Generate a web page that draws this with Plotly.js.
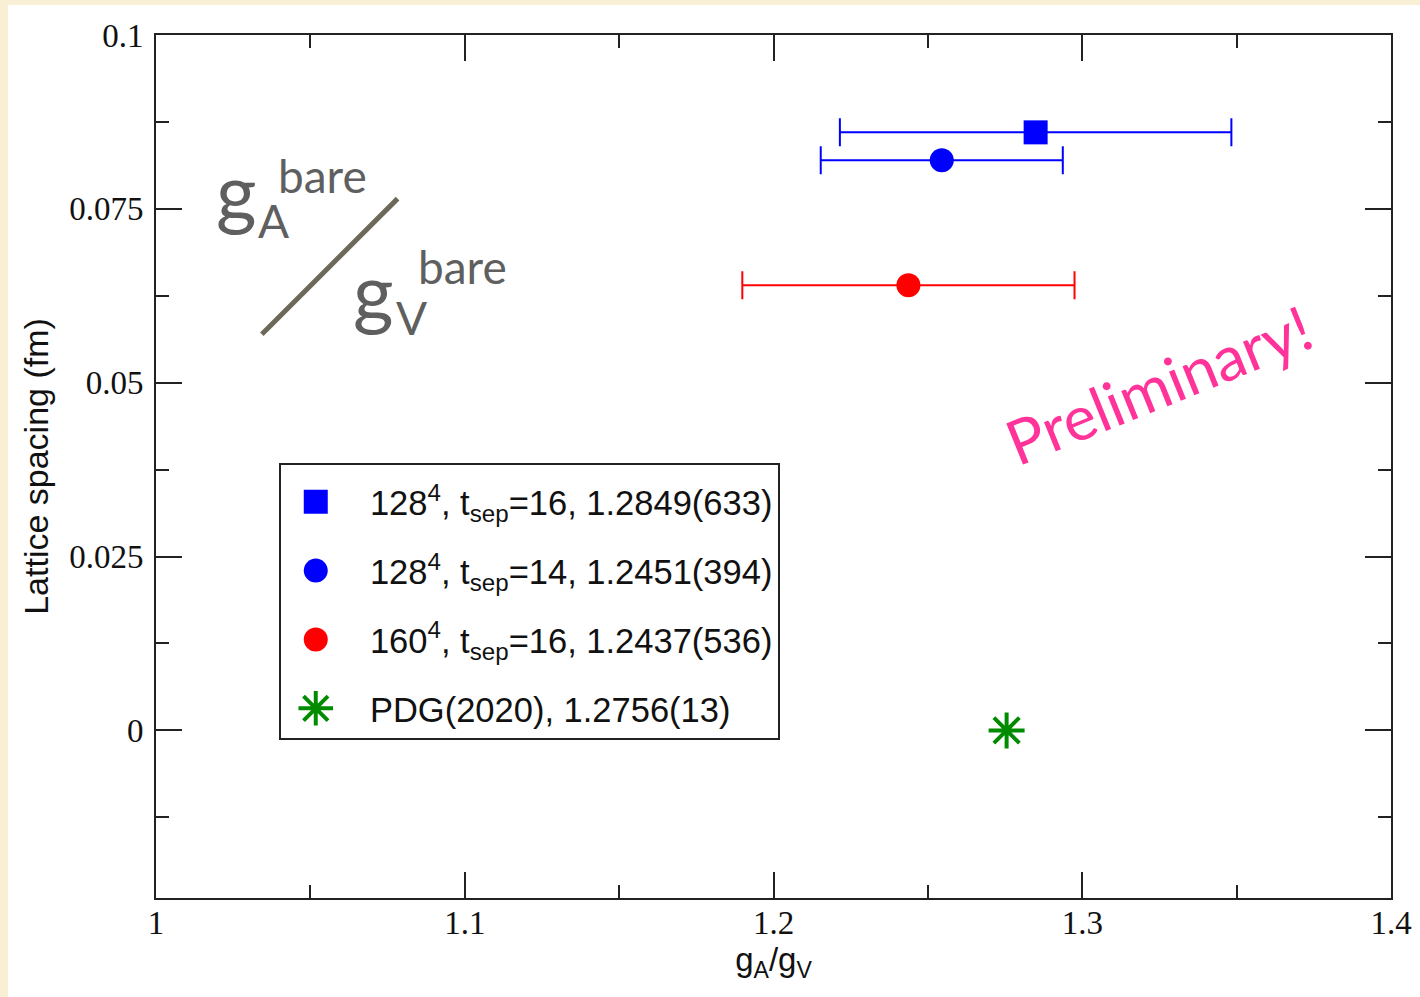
<!DOCTYPE html>
<html>
<head>
<meta charset="utf-8">
<script src="https://cdn.plot.ly/plotly-3.0.1.min.js"></script>
<style>
  html, body { margin:0; padding:0; background:#f9efd4; width:1420px; height:997px; overflow:hidden; }
  #chart { position:absolute; left:8px; top:5px; width:1412px; height:992px; background:#fff; }
</style>
</head>
<body>
<div id="chart"></div>
<script>
// ---- data ----
const seriesNames = [
  '128<sup>4</sup>, t<sub>sep</sub>=16, 1.2849(633)',
  '128<sup>4</sup>, t<sub>sep</sub>=14, 1.2451(394)',
  '160<sup>4</sup>, t<sub>sep</sub>=16, 1.2437(536)',
  'PDG(2020), 1.2756(13)'
];
const ratioValues   = [1.2849, 1.2545, 1.2437, 1.2755];   // g_A/g_V
const ratioErrors   = [0.0634, 0.0392, 0.0538, 0.0013];
const latticeSpacing = [0.0860, 0.0820, 0.0640, 0.0];    // fm
const seriesColors  = ['#0000ff', '#0000ff', '#ff0000', '#008b00'];
const seriesSymbols = ['square', 'circle', 'circle', 'asterisk-open'];

const xTickVals = [1, 1.1, 1.2, 1.3, 1.4];
const xTickText = ['1', '1.1', '1.2', '1.3', '1.4'];
const yTickVals = [0, 0.025, 0.05, 0.075, 0.1];
const yTickText = ['0', '0.025', '0.05', '0.075', '0.1'];

const traces = seriesNames.map((name, i) => ({
  type: 'scatter',
  mode: 'markers',
  name: '&nbsp;&nbsp;' + name,
  legendgroup: 'g' + i,
  x: [ratioValues[i]],
  y: [latticeSpacing[i]],
  error_x: { type: 'data', array: [ratioErrors[i]], visible: i < 3, color: seriesColors[i], thickness: 2, width: 14 },
  marker: i === 3
    ? { symbol: seriesSymbols[i], size: 30, color: seriesColors[i], line: { color: seriesColors[i], width: 4 } }
    : { symbol: seriesSymbols[i], size: 24, color: seriesColors[i], line: { width: 0 } }
}));

const axisCommon = {
  showgrid: false, zeroline: false,
  showline: true, linecolor: '#222', linewidth: 2, mirror: 'allticks',
  ticks: 'inside', ticklen: 26, tickwidth: 2, tickcolor: '#222',
  tickmode: 'array',
  tickfont: { family: 'Liberation Serif, Times New Roman, serif', size: 33, color: '#111' }
};

const layout = {
  width: 1412, height: 992,
  paper_bgcolor: '#ffffff', plot_bgcolor: '#ffffff',
  margin: { l: 148, r: 29, t: 30, b: 99 },
  showlegend: true,
  legend: {
    x: 0.0994, y: 0.504, xanchor: 'left', yanchor: 'top',
    bgcolor: '#ffffff', bordercolor: '#222', borderwidth: 2,
    font: { family: 'Liberation Sans, Arial, sans-serif', size: 34.5, color: '#111' },
    title: { text: '&nbsp;', font: { size: 6 } },
    traceorder: 'grouped', tracegroupgap: 21,
    itemwidth: 60
  },
  xaxis: Object.assign({}, axisCommon, {
    range: [1, 1.4], tickvals: xTickVals, ticktext: xTickText,
    ticklabelstandoff: -6,
    minor: { ticks: 'inside', ticklen: 13, tickwidth: 2, tickcolor: '#222', dtick: 0.05, tick0: 1 },
    title: { text: 'g<sub>A</sub>/g<sub>V</sub>', standoff: 7,
      font: { family: 'Liberation Sans, Arial, sans-serif', size: 33, color: '#111' } }
  }),
  yaxis: Object.assign({}, axisCommon, {
    range: [-0.0241, 0.1], tickvals: yTickVals, ticktext: yTickText,
    ticklabelstandoff: 4,
    minor: { ticks: 'inside', ticklen: 13, tickwidth: 2, tickcolor: '#222', dtick: 0.0125, tick0: 0 },
    title: { text: 'Lattice spacing (fm)', standoff: 10,
      font: { family: 'Liberation Sans, Arial, sans-serif', size: 34, color: '#111' } }
  }),
  shapes: [
    { type: 'line', xref: 'paper', yref: 'paper',
      x0: (261-155)/1237, y0: (899-334)/865, x1: (397-155)/1237, y1: (899-198)/865,
      line: { color: 'rgb(108,104,90)', width: 5 } }
  ],
  annotations: [
    { text: 'g', x: (236-155)/1237, y: (899-189)/865, font: { family: 'Lato, sans-serif', size: 78, color: '#5f5f5f' } },
    { text: 'A', x: (273-155)/1237, y: (899-220)/865, font: { family: 'Lato, sans-serif', size: 46, color: '#5f5f5f' } },
    { text: 'bare', x: (322-155)/1237, y: (899-175)/865, font: { family: 'Lato, sans-serif', size: 46, color: '#5f5f5f' } },
    { text: 'g', x: (373-155)/1237, y: (899-290)/865, font: { family: 'Lato, sans-serif', size: 78, color: '#5f5f5f' } },
    { text: 'V', x: (411-155)/1237, y: (899-317)/865, font: { family: 'Lato, sans-serif', size: 46, color: '#5f5f5f' } },
    { text: 'bare', x: (462-155)/1237, y: (899-266)/865, font: { family: 'Lato, sans-serif', size: 46, color: '#5f5f5f' } },
    { text: 'Preliminary!', x: (1159-155)/1237, y: (899-384)/865, textangle: -22,
      font: { family: 'Lato, sans-serif', size: 62, color: '#ff3399' } }
  ].map(a => Object.assign({ xref: 'paper', yref: 'paper', xanchor: 'center', yanchor: 'middle', showarrow: false }, a))
};

Plotly.newPlot('chart', traces, layout, { displayModeBar: false, staticPlot: true }).then(gd => {
  // enlarge legend symbols to match the plotted marker size
  const items = gd.querySelectorAll('.legend .traces');
  items.forEach((item, i) => {
    item.querySelectorAll('.legendpoints path.scatterpts').forEach(p => {
      const t = p.getAttribute('transform') || '';
      if (i === 3) {
        p.setAttribute('transform', t + ' scale(1.8)');
        p.style.strokeWidth = '2.2px';
      } else {
        p.setAttribute('transform', t + ' scale(1.5)');
      }
    });
  });
});
</script>
</body>
</html>
